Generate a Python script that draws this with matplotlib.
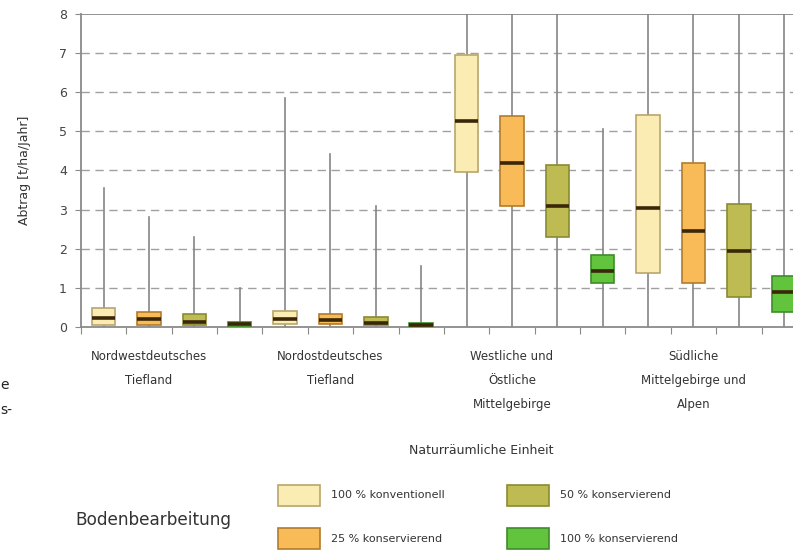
import matplotlib.pyplot as plt
import numpy as np

# Abtrag [t/ha/Jahr], 4 Naturräume x 4 Bodenbearbeitungsvarianten
regions = ['Nordwestdeutsches\nTiefland', 'Nordostdeutsches\nTiefland',
           'Westliche und\nÖstliche\nMittelgebirge', 'Südliche\nMittelgebirge und\nAlpen']
variants = ['100 % konventionell', '25 % konservierend', '50 % konservierend', '100 % konservierend']

whis_lo = [0, 0, 0, 0,   0, 0, 0, 0,   0, 0, 0, 0,   0, 0, 0, 0]
q1      = [0.05, 0.05, 0.04, 0.0,   0.08, 0.08, 0.05, 0.0,   3.95, 3.1, 2.3, 1.12,   1.38, 1.13, 0.77, 0.38]
median  = [0.24, 0.20, 0.13, 0.07,  0.20, 0.17, 0.10, 0.05,  5.27, 4.19, 3.10, 1.43,  3.04, 2.46, 1.95, 0.90]
q3      = [0.48, 0.38, 0.33, 0.13,  0.42, 0.33, 0.25, 0.10,  6.95, 5.40, 4.15, 1.84,  5.42, 4.20, 3.15, 1.30]
whis_hi = [3.55, 2.80, 2.30, 1.00,  5.85, 4.42, 3.08, 1.55,  8.5, 8.5, 8.5, 5.06,  8.5, 8.5, 8.5, 8.5]

fills = ['#fbecb4', '#f8bb58', '#bdbb52', '#62c43c']
edges = ['#b9a56c', '#b27c2c', '#8a8a32', '#3e8c2c']

fig = plt.figure(figsize=(7.93, 5.53), dpi=100)
ax = fig.add_axes([0.102, 0.4087, 0.9155, 0.566])

stats = []
for i in range(16):
    stats.append({'whislo': whis_lo[i], 'q1': q1[i], 'med': median[i],
                  'q3': q3[i], 'whishi': whis_hi[i], 'fliers': []})
pos = np.arange(16) + 0.5
bp = ax.bxp(stats, positions=pos, widths=0.52, showcaps=False, patch_artist=True,
            boxprops=dict(linewidth=1.2),
            whiskerprops=dict(color='#858585', linewidth=1.2),
            medianprops=dict(color='#3a2608', linewidth=2.6))
for i, b in enumerate(bp['boxes']):
    b.set_facecolor(fills[i % 4])
    b.set_edgecolor(edges[i % 4])
    b.set_zorder(3)
for m in bp['medians']:
    m.set_zorder(4)

ax.set_xlim(0, 16)
ax.set_ylim(0, 8)
ax.set_yticks(range(9))
for y in range(1, 8):
    ax.axhline(y, color='#a0a0a0', lw=1.0, ls=(0, (6, 4)), zorder=0)
ax.axhline(8, color='#8a8a8a', lw=1.3, zorder=1)
for s in ['top', 'right']:
    ax.spines[s].set_visible(False)
ax.spines['left'].set_color('#8a8a8a')
ax.spines['left'].set_linewidth(1.3)
ax.spines['bottom'].set_color('#8a8a8a')
ax.spines['bottom'].set_linewidth(1.3)
ax.set_xticks(np.arange(17))
ax.set_xticklabels([])
ax.tick_params(axis='x', length=5, color='#8a8a8a', direction='out')
ax.tick_params(axis='y', length=4, color='#8a8a8a', labelsize=9, labelcolor='#444444', pad=6)
ax.set_ylabel('Abtrag [t/ha/Jahr]', fontsize=9, color='#333333', labelpad=20)

for k, r in enumerate(regions):
    ax.text(1.5 + 4 * k, -0.6, r, ha='center', va='top', fontsize=8.5,
            color='#333333', linespacing=2.1)

fig.text(0.607, 1 - 450 / 553, 'Naturräumliche Einheit', ha='center', va='center',
         fontsize=9, color='#333333')
fig.text(75 / 793, 1 - 520 / 553, 'Bodenbearbeitung', ha='left', va='center',
         fontsize=12.2, color='#333333')

patch_x = [278, 278, 507, 507]
patch_y = [485, 528, 485, 528]
for j in range(4):
    px, py = patch_x[j], patch_y[j]
    fig.patches.append(plt.Rectangle((px / 793, 1 - (py + 21) / 553), 42 / 793, 21 / 553,
                                     transform=fig.transFigure, facecolor=fills[j],
                                     edgecolor=edges[j], linewidth=1.2))
    fig.text((px + 53) / 793, 1 - (py + 10.5) / 553, variants[j], ha='left',
             va='center', fontsize=8, color='#333333')

# Textreste am linken Rand
fig.text(0.0, 1 - 385 / 553, 'e', ha='left', va='center', fontsize=10, color='#222222')
fig.text(0.0, 1 - 410 / 553, 's-', ha='left', va='center', fontsize=10, color='#222222')

fig.savefig('out.png', dpi=100)
